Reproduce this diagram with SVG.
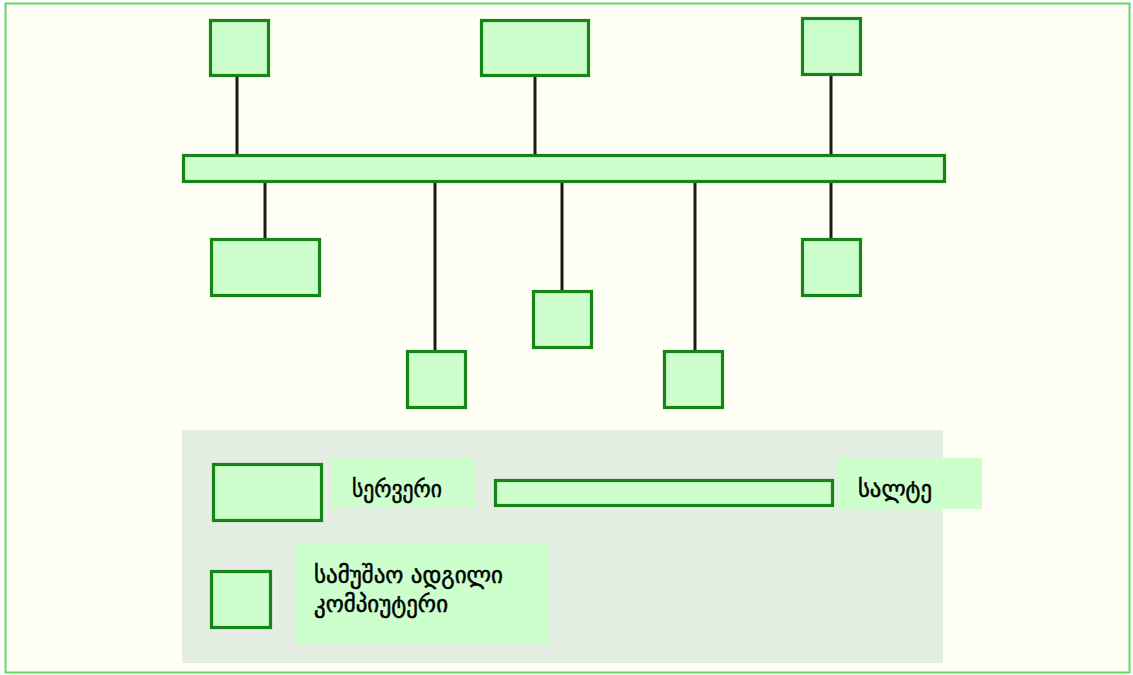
<svg xmlns="http://www.w3.org/2000/svg" width="1133" height="675" viewBox="0 0 1133 675">
  <style>
    .node { fill: #ccffcc; stroke: #168416; stroke-width: 3.2; }
    .link { stroke: #1a1a1a; stroke-width: 3; fill: none; }
    .tag { fill: #ccffcc; stroke: none; }
    .label { font-family: "DejaVu Sans", "Noto Sans", sans-serif; font-size: 23px; font-weight: normal; fill: #000; stroke: #000; stroke-width: 0.5; }
  </style>
  <!-- frame -->
  <rect x="0" y="0" width="1133" height="675" fill="#ffffff"/>
  <rect x="5.5" y="3.5" width="1124" height="669" fill="#fffff5" stroke="#5fdc5f" stroke-width="2"/>

  <!-- connectors -->
  <g id="connectors">
    <line class="link" x1="237" y1="76" x2="237" y2="156"/>
    <line class="link" x1="535" y1="76" x2="535" y2="156"/>
    <line class="link" x1="831" y1="75" x2="831" y2="156"/>
    <line class="link" x1="265" y1="181" x2="265" y2="240"/>
    <line class="link" x1="435" y1="181" x2="435" y2="351"/>
    <line class="link" x1="562" y1="181" x2="562" y2="291"/>
    <line class="link" x1="695" y1="181" x2="695" y2="351"/>
    <line class="link" x1="831" y1="181" x2="831" y2="240"/>
  </g>

  <!-- bus -->
  <g id="bus"><rect class="node" x="183.5" y="155.5" width="761" height="26"/></g>

  <!-- upper hosts -->
  <g id="host-top-1"><rect class="node" x="210.5" y="20.5" width="58" height="55"/></g>
  <g id="server-top"><rect class="node" x="481.5" y="20.5" width="107" height="55"/></g>
  <g id="host-top-2"><rect class="node" x="802.5" y="18.5" width="58" height="56"/></g>

  <!-- lower hosts -->
  <g id="server-bottom"><rect class="node" x="211.5" y="239.5" width="108" height="56"/></g>
  <g id="host-bottom-1"><rect class="node" x="407.5" y="351.5" width="58" height="56"/></g>
  <g id="host-bottom-2"><rect class="node" x="533.5" y="291.5" width="58" height="56"/></g>
  <g id="host-bottom-3"><rect class="node" x="664.5" y="351.5" width="58" height="56"/></g>
  <g id="host-bottom-4"><rect class="node" x="802.5" y="239.5" width="58" height="56"/></g>

  <!-- legend -->
  <g id="legend">
    <rect x="182" y="430" width="761" height="233" fill="#e4eee2"/>
    <g id="legend-server">
      <rect class="node" x="213.5" y="464.5" width="108" height="56"/>
      <rect class="tag" x="332" y="458" width="144" height="50"/>
      <text class="label" x="352" y="497" textLength="90" lengthAdjust="spacingAndGlyphs">სერვერი</text>
    </g>
    <g id="legend-bus">
      <rect class="node" x="495.5" y="480.5" width="337" height="25"/>
      <rect class="tag" x="837" y="458" width="145" height="51"/>
      <text class="label" x="858" y="497" textLength="74" lengthAdjust="spacingAndGlyphs">სალტე</text>
    </g>
    <g id="legend-workstation">
      <rect class="node" x="211.5" y="571.5" width="59" height="56"/>
      <rect class="tag" x="296" y="543" width="253" height="101"/>
      <text class="label" x="314" y="583" textLength="189" lengthAdjust="spacingAndGlyphs">სამუშაო ადგილი</text>
      <text class="label" x="314" y="612" textLength="134" lengthAdjust="spacingAndGlyphs">კომპიუტერი</text>
    </g>
  </g>
</svg>
